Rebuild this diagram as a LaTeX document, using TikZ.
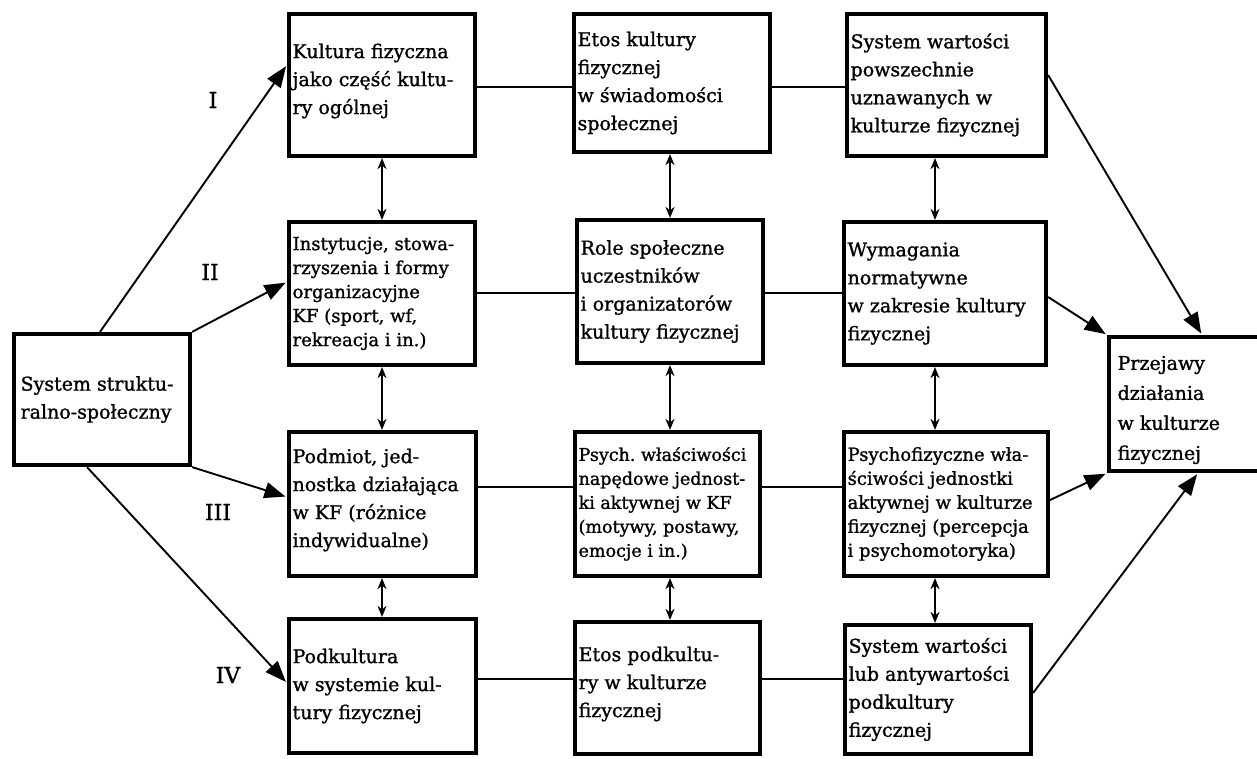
\documentclass[tikz,border=0pt]{standalone}
\usepackage{fontspec}
\setmainfont{DejaVu Serif}[FakeBold=1.2]
\usetikzlibrary{arrows.meta}

% #1 text options, #2 name, #3 left, #4 top, #5 right, #6 bottom, #7 text
\newcommand\cbox[7][]{%
  \node[box, minimum width={#5-#3-4}, minimum height={#6-#4-4}]
    (#2) at ({(#3+#5)/2},{(#4+#6)/2}) {};
  \node[txt,#1] (#2t) at ([xshift=5.5pt]#2.west) {#7};}

\begin{document}
\frenchspacing
\begin{tikzpicture}[x=1pt,y=-1pt,
  box/.style={draw, line width=4.2pt, inner sep=0pt},
  txt/.style={anchor=west, inner sep=0pt, align=left,
              font=\fontsize{19}{28}\selectfont},
  tight/.style={font=\fontsize{18}{24}\selectfont},
  link/.style={line width=1.7pt},
  feed/.style={line width=1.9pt, shorten >=1.5pt,
               -{Triangle[length=21pt,width=16pt]}},
  dbl/.style={line width=2.6pt,
              {Stealth[length=11pt,width=9pt]}-{Stealth[length=11pt,width=9pt]}},
  roman/.style={font=\fontsize{22}{22}\selectfont}]

\useasboundingbox (0,0) rectangle (1257,759);

% source and outcome
\cbox[xshift=3pt]{L}{12}{332}{192}{467}{System struktu-\\ralno-społeczny}
\cbox[xshift=5pt, yshift=-6pt, font=\fontsize{19}{30}\selectfont]{R}{1107}{335}{1265}{473}%
  {Przejawy\\działania\\w kulturze\\fizycznej}

% level I
\cbox[yshift=4pt]{b11}{287}{12}{477}{158}{Kultura fizyczna\\jako część kultu-\\ry ogólnej}
\cbox{b12}{572}{12}{772}{154}{Etos kultury\\fizycznej\\w świadomości\\społecznej}
\cbox{b13}{845}{12}{1048}{158}{System wartości\\powszechnie\\uznawanych w\\kulturze fizycznej}
% level II
\cbox[tight]{b21}{287}{220}{477}{367}{Instytucje, stowa-\\rzyszenia i formy\\organizacyjne\\KF (sport, wf,\\rekreacja i in.)}
\cbox{b22}{575}{218}{765}{365}{Role społeczne\\uczestników\\i organizatorów\\kultury fizycznej}
\cbox{b23}{842}{220}{1048}{367}{Wymagania\\normatywne\\w zakresie kultury\\fizycznej}
% level III
\cbox[yshift=4pt]{b31}{287}{430}{478}{578}{Podmiot, jed-\\nostka działająca\\w KF (różnice\\indywidualne)}
\cbox[font=\fontsize{17.5}{24}\selectfont]{b32}{573}{430}{762}{578}{Psych. właściwości\\napędowe jednost-\\ki aktywnej w KF\\(motywy, postawy,\\emocje i in.)}
\cbox[tight]{b33}{842}{430}{1050}{578}{Psychofizyczne wła-\\ściwości jednostki\\aktywnej w kulturze\\fizycznej (percepcja\\i psychomotoryka)}
% level IV
\cbox{b41}{287}{617}{478}{755}{Podkultura\\w systemie kul-\\tury fizycznej}
\cbox[yshift=4pt]{b42}{573}{620}{762}{756}{Etos podkultu-\\ry w kulturze\\fizycznej}
\cbox{b43}{843}{623}{1033}{756}{System wartości\\lub antywartości\\podkultury\\fizycznej}

% guide coordinates for connector ends
\coordinate (r1) at (0,87);  \coordinate (r2) at (0,293);
\coordinate (r3) at (0,487); \coordinate (r4) at (0,679);
\coordinate (c1) at (382,0); \coordinate (c2) at (670,0); \coordinate (c3) at (935,0);

% horizontal links within each level
\foreach \r/\a/\b/\c in {r1/b11/b12/b13, r2/b21/b22/b23, r3/b31/b32/b33, r4/b41/b42/b43}{
  \draw[link] (\a.east |- \r) -- (\b.west |- \r);
  \draw[link] (\b.east |- \r) -- (\c.west |- \r);
}

% vertical two-way links between levels
\foreach \c/\u/\d in {c1/b11/b21, c1/b21/b31, c1/b31/b41,
                      c2/b12/b22, c2/b22/b32, c2/b32/b42,
                      c3/b13/b23, c3/b23/b33, c3/b33/b43}{
  \draw[dbl] (\u.south -| \c) -- (\d.north -| \c);
}

% from the social structure to the four levels
\coordinate (pI) at (100,0);  \coordinate (qI) at (0,65);
\coordinate (qII) at (0,282); \coordinate (qIII) at (0,497);
\coordinate (pIV) at (87,0);  \coordinate (qIV) at (0,683);
\draw[feed] (L.north -| pI) -- (b11.west |- qI);
\draw[feed] (L.north east) -- (b21.west |- qII);
\draw[feed] (L.south east) -- (b31.west |- qIII);
\draw[feed] (L.south -| pIV) -- (b41.west |- qIV);

\node[roman] (nI)   at (213,100) {I};
\node[roman] (nII)  at (210,272) {II};
\node[roman] (nIII) at (218,512) {III};
\node[roman] (nIV)  at (228,675) {IV};

% from the last column to the outcome
\coordinate (s1) at (0,75);  \coordinate (t1) at (1202,0);
\coordinate (s2) at (0,297); \coordinate (s3) at (0,500);
\coordinate (s4) at (0,693); \coordinate (t4) at (1198,0);
\draw[feed] (b13.east |- s1) -- (R.north -| t1);
\draw[feed] (b23.east |- s2) -- (R.north west);
\draw[feed] (b33.east |- s3) -- (R.south west);
\draw[feed] (b43.east |- s4) -- (R.south -| t4);
\end{tikzpicture}
\end{document}
